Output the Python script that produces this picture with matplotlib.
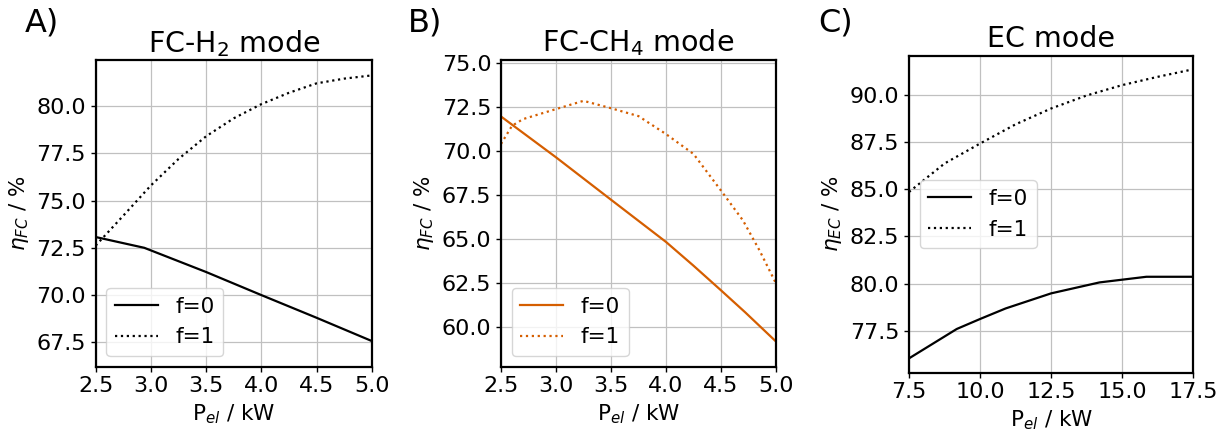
import matplotlib
matplotlib.use("Agg")
import matplotlib.pyplot as plt
import numpy as np

# ---- data ----
p_fc_h2_f0 = [2.5, 2.94, 3.5, 4.0, 4.5, 5.0]
eta_fc_h2_f0 = [73.07, 72.5, 71.22, 70.0, 68.8, 67.57]
p_fc_h2_f1 = [2.5, 2.75, 3.0, 3.25, 3.5, 3.75, 4.0, 4.25, 4.5, 4.75, 5.0]
eta_fc_h2_f1 = [72.62, 74.2, 75.8, 77.2, 78.4, 79.35, 80.1, 80.7, 81.2, 81.45, 81.62]

p_fc_ch4_f0 = [2.5, 3.0, 3.5, 4.0, 4.25, 4.5, 4.72, 5.0]
eta_fc_ch4_f0 = [71.98, 69.66, 67.25, 64.85, 63.5, 62.1, 60.85, 59.19]
p_fc_ch4_f1 = [2.5, 2.6, 2.7, 3.0, 3.25, 3.5, 3.75, 4.0, 4.25, 4.5, 4.7, 4.85, 5.0]
eta_fc_ch4_f1 = [70.42, 71.45, 71.83, 72.4, 72.87, 72.45, 72.0, 70.98, 69.85, 67.77, 66.07, 64.37, 62.49]

p_ec_f0 = [7.5, 9.18, 10.0, 10.9, 12.5, 14.2, 15.85, 17.5]
eta_ec_f0 = [76.03, 77.59, 78.12, 78.68, 79.48, 80.06, 80.36, 80.36]
p_ec_f1 = [7.5, 8.75, 10.0, 11.25, 12.5, 13.75, 15.0, 16.25, 17.5]
eta_ec_f1 = [84.86, 86.37, 87.43, 88.45, 89.29, 89.98, 90.53, 90.97, 91.37]

titles = ["FC-H$_2$ mode", "FC-CH$_4$ mode", "EC mode"]
letters = ["A)", "B)", "C)"]
ylabels = [r"$\eta_{FC}$ / %", r"$\eta_{FC}$ / %", r"$\eta_{EC}$ / %"]
xlabel = r"P$_{el}$ / kW"
legend_labels = ["f=0", "f=1"]

ORANGE = "#D55E00"
FS = 16
LFS = 15.5

plt.rcParams.update({
    "font.family": "DejaVu Sans",
    "font.size": FS,
    "axes.linewidth": 1.6,
})

fig = plt.figure(figsize=(12.27, 4.32), dpi=100)
W, H = 1227, 432

def make_ax(l, t, r, b):
    return fig.add_axes([l / W, 1 - b / H, (r - l) / W, (b - t) / H])

axA = make_ax(95.7, 60.3, 371.7, 366.7)
axB = make_ax(501, 60.0, 776, 366.7)
axC = make_ax(909, 55.7, 1193.3, 372.7)

panels = [
    (axA, p_fc_h2_f0, eta_fc_h2_f0, p_fc_h2_f1, eta_fc_h2_f1, "black",
     (2.5, 5.0), (66.21, 82.42), np.arange(2.5, 5.01, 0.5), np.arange(67.5, 80.01, 2.5), "lower left"),
    (axB, p_fc_ch4_f0, eta_fc_ch4_f0, p_fc_ch4_f1, eta_fc_ch4_f1, ORANGE,
     (2.5, 5.0), (57.76, 75.19), np.arange(2.5, 5.01, 0.5), np.arange(60.0, 75.01, 2.5), "lower left"),
    (axC, p_ec_f0, eta_ec_f0, p_ec_f1, eta_ec_f1, "black",
     (7.5, 17.5), (75.27, 92.09), np.arange(7.5, 17.51, 2.5), np.arange(77.5, 90.01, 2.5), "center left"),
]

for i, (ax, x0, y0, x1, y1, col, xl, yl, xt, yt, loc) in enumerate(panels):
    ax.plot(x0, y0, color=col, lw=1.6, linestyle="-", label=legend_labels[0])
    ax.plot(x1, y1, color=col, lw=1.6, linestyle=":", label=legend_labels[1])
    ax.set_xlim(*xl)
    ax.set_ylim(*yl)
    ax.set_xticks(xt)
    ax.set_yticks(yt)
    ax.grid(True, color="#c0c0c0", lw=0.9)
    ax.set_axisbelow(True)
    ax.set_title(titles[i], fontsize=20.5)
    ax.set_xlabel(xlabel, fontsize=LFS)
    ax.set_ylabel(ylabels[i], fontsize=LFS)
    ax.tick_params(labelsize=FS, width=1.0)
    ax.legend(loc=loc, fontsize=LFS)

fig.text(25 / W, 1 - 8 / H, letters[0], fontsize=23, va="top", ha="left")
fig.text(408 / W, 1 - 8 / H, letters[1], fontsize=23, va="top", ha="left")
fig.text(818 / W, 1 - 8 / H, letters[2], fontsize=23, va="top", ha="left")

fig.savefig("out.png", dpi=100)
